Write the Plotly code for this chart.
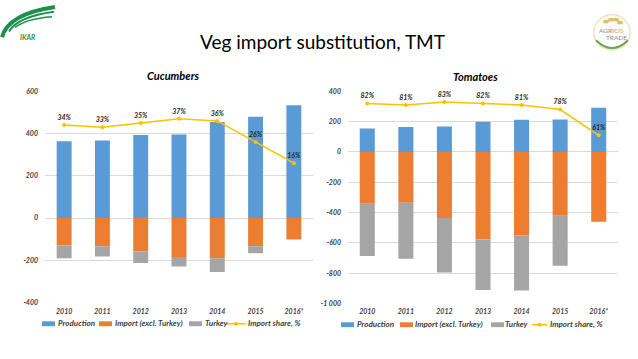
import plotly.graph_objects as go

# ---------------- data ----------------
years = ["2010", "2011", "2012", "2013", "2014", "2015", "2016*"]

cuc_production = [364, 367, 393, 395, 455, 480, 534]
cuc_import = [-130, -134, -159, -185, -190, -133, -102]
cuc_turkey = [-60, -48, -54, -44, -65, -34, None]
cuc_share = [34, 33, 35, 37, 36, 26, 16]

tom_production = [155, 164, 168, 199, 212, 214, 291]
tom_import = [-341, -335, -436, -578, -550, -421, -460]
tom_turkey = [-345, -370, -360, -333, -365, -330, None]
tom_share = [82, 81, 83, 82, 81, 78, 61]

series_names = ["Production", "Import (excl. Turkey)", "Turkey", "Import share, %"]
series_colors = ["#5B9BD5", "#ED7D31", "#A5A5A5", "#FFC000"]

cuc_yticks = [-400, -200, 0, 200, 400, 600]
cuc_yticktext = ["-400", "-200", "0", "200", "400", "600"]
tom_yticks = [-1000, -800, -600, -400, -200, 0, 200, 400]
tom_yticktext = ["-1 000", "-800", "-600", "-400", "-200", "0", "200", "400"]

W, H = 638, 359
FONT = "Lato"


def px(x):
    return x / W


def py(y):
    return 1 - y / H


fig = go.Figure()

# ---------------- cucumbers ----------------
for vals, name, col in zip([cuc_production, cuc_import, cuc_turkey], series_names[:3], series_colors[:3]):
    fig.add_trace(go.Bar(x=years, y=vals, name=name, marker=dict(color=col, line=dict(width=0)),
                         xaxis="x", yaxis="y", showlegend=False))
fig.add_trace(go.Scatter(x=years, y=cuc_share, name=series_names[3], mode="lines+markers+text",
                         line=dict(color=series_colors[3], width=1.5),
                         marker=dict(color=series_colors[3], size=4),
                         text=[f"{v}%" for v in cuc_share], textposition="top center",
                         textfont=dict(family=FONT, size=7, color="#262626", style="italic", weight="bold"),
                         xaxis="x", yaxis="y2", showlegend=False, cliponaxis=False))

# ---------------- tomatoes ----------------
for vals, name, col in zip([tom_production, tom_import, tom_turkey], series_names[:3], series_colors[:3]):
    fig.add_trace(go.Bar(x=years, y=vals, name=name, marker=dict(color=col, line=dict(width=0)),
                         xaxis="x2", yaxis="y3", showlegend=False))
fig.add_trace(go.Scatter(x=years, y=tom_share, name=series_names[3], mode="lines+markers+text",
                         line=dict(color=series_colors[3], width=1.5),
                         marker=dict(color=series_colors[3], size=4),
                         text=[f"{v}%" for v in tom_share], textposition="top center",
                         textfont=dict(family=FONT, size=7, color="#262626", style="italic", weight="bold"),
                         xaxis="x2", yaxis="y4", showlegend=False, cliponaxis=False))

tickfont = dict(family=FONT, size=7, color="#404040", style="italic", weight="bold")
grid = "#D9D9D9"

fig.update_layout(
    width=W, height=H, margin=dict(l=0, r=0, t=0, b=0),
    paper_bgcolor="white", plot_bgcolor="white",
    barmode="relative", bargap=0.61,
    font=dict(family=FONT),
    xaxis=dict(domain=[px(45), px(313)], anchor="y", showgrid=False, showline=False, zeroline=False,
               tickfont=tickfont, ticks="", ticklabelstandoff=3),
    yaxis=dict(domain=[py(304.3), py(88.3)], range=[-400, 600], tickvals=cuc_yticks, ticktext=cuc_yticktext,
               showgrid=True, gridcolor=grid, gridwidth=1, zeroline=False, showline=False,
               tickfont=tickfont, ticks="", ticklabelstandoff=6, anchor="x"),
    yaxis2=dict(overlaying="y", range=[-50, 50], visible=False, anchor="x"),
    xaxis2=dict(domain=[px(348), px(618)], anchor="y3", showgrid=False, showline=False, zeroline=False,
                tickfont=tickfont, ticks="", ticklabelstandoff=3),
    yaxis3=dict(domain=[py(305.3), py(88.3)], range=[-1000, 400], tickvals=tom_yticks, ticktext=tom_yticktext,
                showgrid=True, gridcolor=grid, gridwidth=1, zeroline=False, showline=False,
                tickfont=tickfont, ticks="", ticklabelstandoff=6, anchor="x2"),
    yaxis4=dict(overlaying="y3", range=[-50, 90], visible=False, anchor="x2"),
)

annotations = []
shapes = []

# titles
annotations.append(dict(x=px(322), y=py(37), xref="paper", yref="paper", text="Veg import substitution, TMT",
                        showarrow=False, font=dict(family=FONT, size=19, color="#000000"),
                        xanchor="center", yanchor="middle"))
annotations.append(dict(x=px(173), y=py(72), xref="paper", yref="paper", text="Cucumbers",
                        showarrow=False, font=dict(family=FONT, size=11, color="#000000", style="italic", weight="bold"),
                        xanchor="center", yanchor="middle"))
annotations.append(dict(x=px(475), y=py(73), xref="paper", yref="paper", text="Tomatoes",
                        showarrow=False, font=dict(family=FONT, size=11, color="#000000", style="italic", weight="bold"),
                        xanchor="center", yanchor="middle"))

# manual legends (compact, Excel style)
legend_font = dict(family=FONT, size=8, color="#404040", style="italic", weight="bold")


def add_legend(x_items, yc, line_len):
    for i, (x0, tx) in enumerate(x_items):
        if i < 3:
            shapes.append(dict(type="rect", xref="paper", yref="paper",
                               x0=px(x0), x1=px(x0 + 13), y0=py(yc + 2.5), y1=py(yc - 2.5),
                               fillcolor=series_colors[i], line=dict(width=0)))
        else:
            shapes.append(dict(type="line", xref="paper", yref="paper",
                               x0=px(x0), x1=px(x0 + line_len), y0=py(yc), y1=py(yc),
                               line=dict(color=series_colors[3], width=1.5)))
            mid = x0 + line_len / 2
            shapes.append(dict(type="circle", xref="paper", yref="paper",
                               x0=px(mid - 2), x1=px(mid + 2), y0=py(yc + 2), y1=py(yc - 2),
                               fillcolor=series_colors[3], line=dict(width=0)))
        annotations.append(dict(x=px(tx), y=py(yc - 1), xref="paper", yref="paper", text=series_names[i],
                                showarrow=False, font=legend_font, xanchor="left", yanchor="middle"))


add_legend([(42, 56), (99, 113), (189, 203), (226, 246)], 326, 20)
add_legend([(341, 355), (400, 413), (491, 503), (532, 548)], 327, 15)

# IKAR logo (approximation)
green = "#1F8F4E"
shapes.append(dict(type="path", xref="paper", yref="paper",
                   path=f"M {px(2)},{py(33)} Q {px(8)},{py(9)} {px(55)},{py(2)}",
                   line=dict(color=green, width=4)))
shapes.append(dict(type="path", xref="paper", yref="paper",
                   path=f"M {px(9)},{py(27)} Q {px(18)},{py(12)} {px(54)},{py(7)}",
                   line=dict(color=green, width=2)))
shapes.append(dict(type="path", xref="paper", yref="paper",
                   path=f"M {px(15)},{py(23)} Q {px(26)},{py(14)} {px(52)},{py(12)}",
                   line=dict(color=green, width=1.5)))
annotations.append(dict(x=px(27), y=py(33), xref="paper", yref="paper", text="IKAR", showarrow=False,
                        font=dict(family=FONT, size=7, color=green, style="italic", weight="bold"),
                        xanchor="center", yanchor="middle"))

# AGRICIS TRADE logo (approximation)
shapes.append(dict(type="circle", xref="paper", yref="paper",
                   x0=px(594), x1=px(630), y0=py(46), y1=py(10),
                   line=dict(color="#EFE3BF", width=1.5), fillcolor="white"))
shapes.append(dict(type="path", xref="paper", yref="paper",
                   path=f"M {px(596)},{py(36)} Q {px(612)},{py(52)} {px(628)},{py(36)}",
                   line=dict(color="#6AA84F", width=2)))
for cx, cy in [(606, 17), (611, 15), (616, 15), (620, 18)]:
    shapes.append(dict(type="circle", xref="paper", yref="paper",
                       x0=px(cx - 3), x1=px(cx + 3), y0=py(cy + 2), y1=py(cy - 2),
                       fillcolor="#E3BE5C", line=dict(width=0)))
annotations.append(dict(x=px(611), y=py(26), xref="paper", yref="paper",
                        text='AGRIC<span style="color:#E8A33D">IS</span>', showarrow=False,
                        font=dict(family=FONT, size=6.5, color="#8C8C8C"), xanchor="center", yanchor="middle"))
annotations.append(dict(x=px(616), y=py(33), xref="paper", yref="paper", text="TRADE", showarrow=False,
                        font=dict(family=FONT, size=6.5, color="#8C8C8C"), xanchor="center", yanchor="middle"))

fig.update_layout(annotations=annotations, shapes=shapes)

fig.write_html("out.html", config={"displayModeBar": False},
               post_script="document.body.style.margin='0';document.body.style.padding='0';"
                           "document.body.style.overflow='hidden';")
